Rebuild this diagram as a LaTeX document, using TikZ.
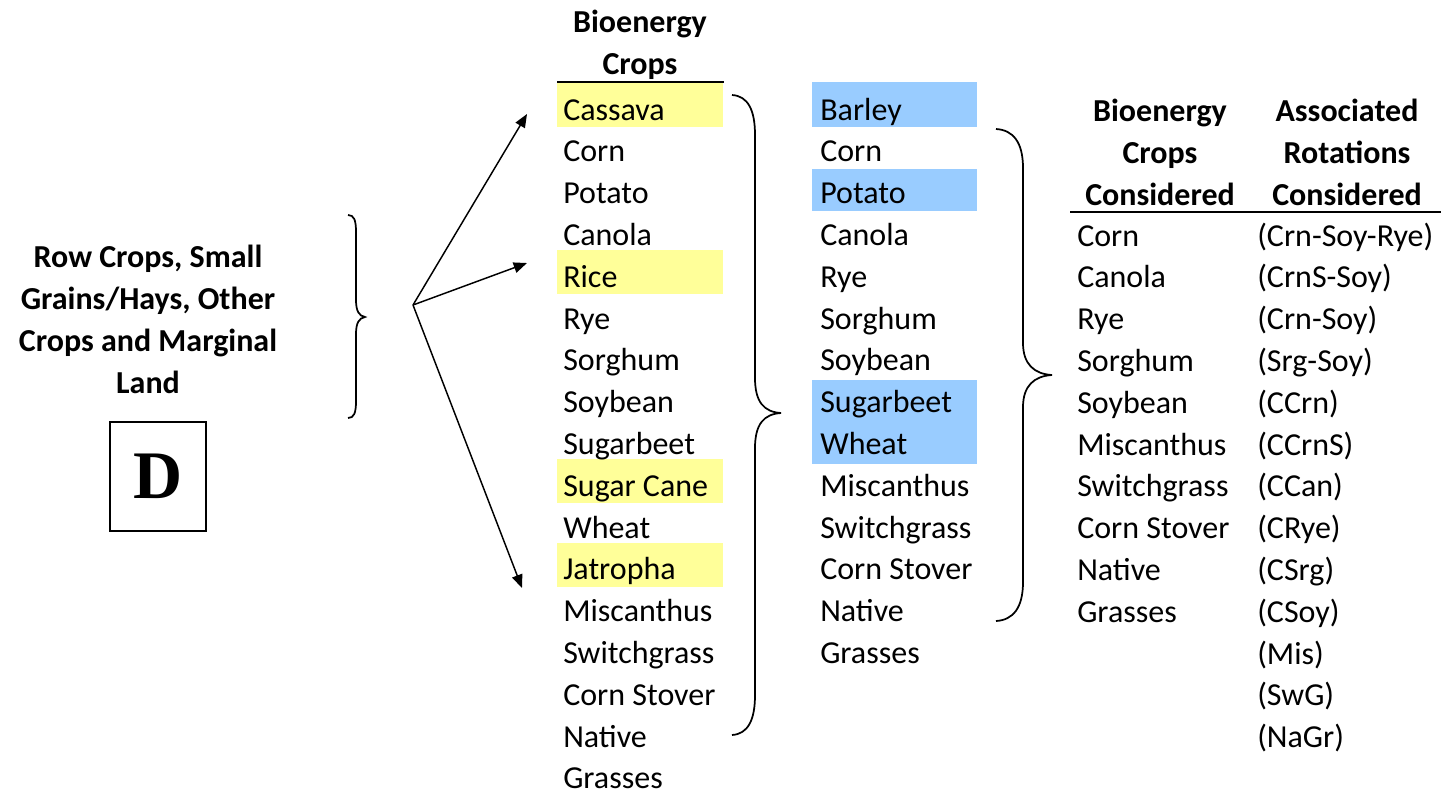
\documentclass[tikz,border=0pt]{standalone}
\usepackage{fontspec}
\setmainfont{Carlito}
\newfontfamily\serifD{Liberation Serif}
\usetikzlibrary{arrows.meta}
\definecolor{hlyellow}{HTML}{FFFF99}
\definecolor{hlblue}{HTML}{99CCFF}
\begin{document}
\begin{tikzpicture}[x=0.75pt,y=-0.75pt,
 txt/.style={anchor=base west, inner sep=0pt, font=\fontsize{24}{31.5}\selectfont},
 hdr/.style={align=center, inner sep=0pt, font=\fontsize{24}{31.5}\selectfont\bfseries},
 bracepath/.style={line width=1.3pt},
 arr/.style={-{Triangle[length=10pt,width=8pt]}, line width=1.1pt},
 rule/.style={line width=1.6pt}]
\useasboundingbox (0,0) rectangle (1441,794);

% left block
\node[hdr] (land) at (148,319) {Row Crops, Small\\Grains/Hays, Other\\Crops and Marginal\\Land};
\node[draw, line width=1pt, minimum width=72pt, minimum height=81.75pt, inner sep=0pt,
      font=\fontsize{51}{51}\serifD\bfseries] (D) at (158,476.5) {D};

% brace 1
\draw[bracepath] (348,215) .. controls (354,215) and (356,220) .. (356,232) -- (356,300)
  .. controls (356,311) and (359,316) .. (365,317) .. controls (359,318) and (356,323) .. (356,334)
  -- (356,401) .. controls (356,413) and (354,418) .. (348,418);

% arrows
\coordinate (src) at (413,305);
\coordinate (t1) at (527,114);
\coordinate (t2) at (527,263);
\coordinate (t3) at (522,588);
\draw[arr] (src) -- (t1);
\draw[arr] (src) -- (t2);
\draw[arr] (src) -- (t3);

% column 1
\node[hdr] (h1) at (640,45) {Bioenergy\\Crops};
\draw[rule] (557,82) -- (724,82);
\foreach \i in {0,4,9,11}
  \fill[hlyellow] (557,{120+41.8*\i-37}) rectangle (723,{120+41.8*\i+7});
\foreach \t [count=\i from 0] in {Cassava,Corn,Potato,Canola,Rice,Rye,Sorghum,Soybean,Sugarbeet,Sugar Cane,Wheat,Jatropha,Miscanthus,Switchgrass,Corn Stover,Native,Grasses}
  \node[txt] (a\i) at (563,{120+41.8*\i}) {\t};

% brace 2
\draw[bracepath] (732,95) .. controls (748,96) and (755,110) .. (755,135) -- (755,378)
  .. controls (755,402) and (764,412) .. (781,413) .. controls (764,414) and (755,424) .. (755,448)
  -- (755,695) .. controls (755,720) and (748,734) .. (732,735);

% column 2
\fill[hlblue] (812,82) rectangle (977,127);
\fill[hlblue] (812,169) rectangle (977,211);
\fill[hlblue] (812,380) rectangle (977,464);
\foreach \t [count=\i from 0] in {Barley,Corn,Potato,Canola,Rye,Sorghum,Soybean,Sugarbeet,Wheat,Miscanthus,Switchgrass,Corn Stover,Native,Grasses}
  \node[txt] (b\i) at (820,{120+41.8*\i}) {\t};

% brace 3
\draw[bracepath] (996,129) .. controls (1013,130) and (1023,142) .. (1023,168) -- (1023,343)
  .. controls (1023,364) and (1034,374) .. (1052,375) .. controls (1034,376) and (1023,386) .. (1023,407)
  -- (1023,582) .. controls (1023,608) and (1013,620) .. (996,621);

% columns 3 and 4
\node[hdr] (h3) at (1160,152) {Bioenergy\\Crops\\Considered};
\node[hdr] (h4) at (1347,152) {Associated\\Rotations\\Considered};
\draw[rule] (1070,212) -- (1441,212);
\foreach \t [count=\i from 0] in {Corn,Canola,Rye,Sorghum,Soybean,Miscanthus,Switchgrass,Corn Stover,Native,Grasses}
  \node[txt] (c\i) at (1077,{246+41.8*\i}) {\t};
\foreach \t [count=\i from 0] in {(Crn-Soy-Rye),(CrnS-Soy),(Crn-Soy),(Srg-Soy),(CCrn),(CCrnS),(CCan),(CRye),(CSrg),(CSoy),(Mis),(SwG),(NaGr)}
  \node[txt] (r\i) at (1257,{246+41.8*\i}) {\t};
\end{tikzpicture}
\end{document}
